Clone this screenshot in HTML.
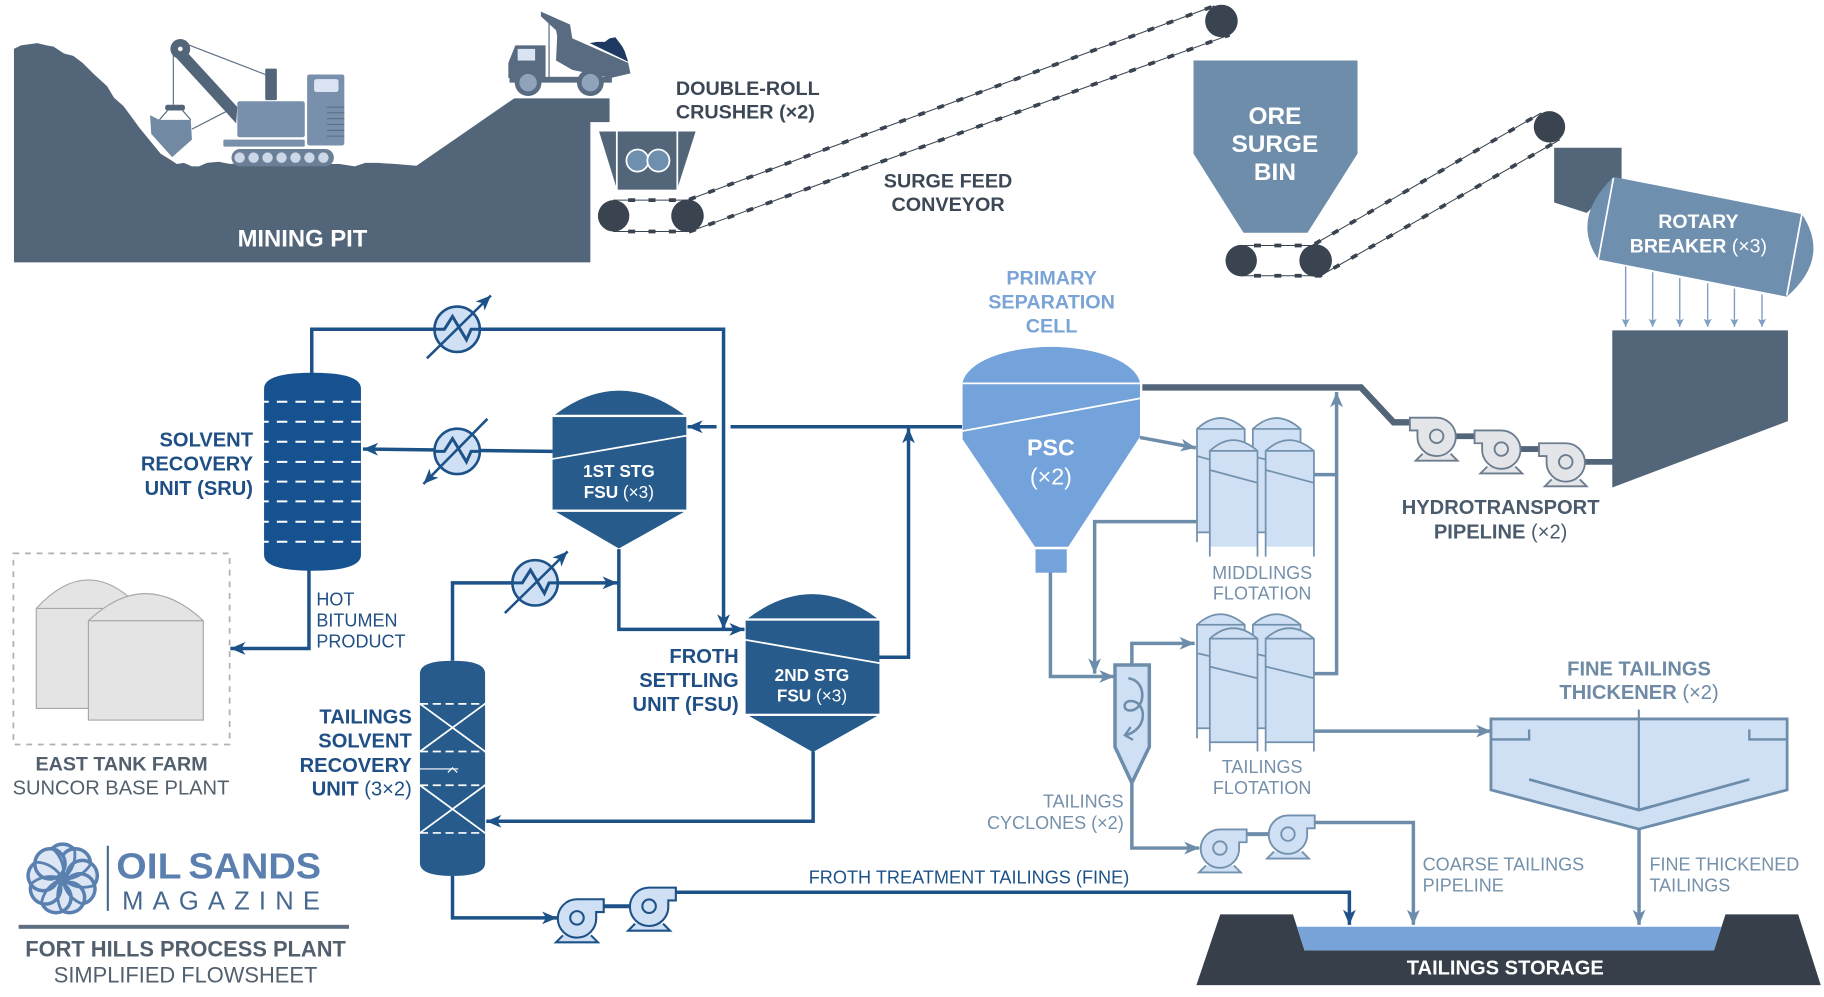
<!DOCTYPE html>
<html><head><meta charset="utf-8"><style>
html,body{margin:0;padding:0;background:#fff;width:1824px;height:997px;overflow:hidden}
svg{display:block}
text{font-family:"Liberation Sans",sans-serif}
.b{font-weight:bold}
.r{font-weight:normal}
</style></head><body>
<svg width="1824" height="997" viewBox="0 0 1568 857" xmlns="http://www.w3.org/2000/svg">
<defs>
<marker id="aB" markerUnits="userSpaceOnUse" markerWidth="16" markerHeight="14" refX="13" refY="6" orient="auto"><path d="M0,0.5 L13,6 L0,11.5 L3.5,6 Z" fill="#1d5288"/></marker>
<marker id="aG" markerUnits="userSpaceOnUse" markerWidth="16" markerHeight="14" refX="13" refY="6" orient="auto"><path d="M0,0.5 L13,6 L0,11.5 L3.5,6 Z" fill="#6d8dab"/></marker>
<marker id="aT" markerUnits="userSpaceOnUse" markerWidth="10" markerHeight="10" refX="7" refY="3.5" orient="auto"><path d="M0,0 L7,3.5 L0,7 L1.5,3.5 Z" fill="#7f9fc4"/></marker>
<g id="pumpL">
<path d="M-12,15 L-18,21 L18,21 L12,15" fill="#e3e5e9"/>
<path d="M-23,-16 L0,-16 A16.5,16.5 0 1 1 -16.5,0 L-16.5,-5 L-23,-5 Z"/>
<circle r="5.8"/>
</g>
<g id="pumpR">
<path d="M-12,15 L-18,21 L18,21 L12,15"/>
<path d="M23,-16 L0,-16 A16.5,16.5 0 1 0 16.5,0 L16.5,-5 L23,-5 Z"/>
<circle r="5.8"/>
</g>
<g id="hx">
<circle r="19.5" fill="#cfe0f4" stroke="#1d5288" stroke-width="2.2"/>
<path d="M-19,0 L-11,0 L-4,-11 L8,9 L12,0 L19,0" fill="none" stroke="#1d5288" stroke-width="2.6"/>
</g>
</defs>

<!-- Mining pit -->
<path d="M12,42 L18,39 L25,38 L32,37 L40,39 L46,40 L55,46 L63,48 L71,54 L80,63 L92,74 L98,84 L106,91 L112,99 L120,110 L129,121 L138,132 L146,137 L152,141 L158,140 L165,143 L171,143 L178,140 L188,139 L198,141 L208,140 L217,142 L230,140 L250,141 L270,141 L292,141 L305,143 L314,140 L325,140 L340,141 L358,142.5 L442,84.5 L524,84.5 L524,105 L507.5,105 L507.5,225.5 L12,225.5 Z" fill="#526579"/>
<!-- Excavator -->
<g>
<path d="M158,37 L228,64" stroke="#5d6f83" stroke-width="1" fill="none"/>
<path d="M149,43 L149,90" stroke="#5d6f83" stroke-width="1" fill="none"/>
<path d="M165,111 L196,95" stroke="#5d6f83" stroke-width="1" fill="none"/>
<path d="M150,48 L160,44 L204,92 L203,106 L194,96 Z" fill="#526579"/>
<circle cx="155" cy="42" r="8.5" fill="#526579"/><circle cx="155" cy="42" r="2" fill="#fff"/>
<rect x="142" y="90" width="17" height="5" rx="2" fill="#526579"/>
<path d="M144,95 L137,103 M157,95 L164,103" stroke="#526579" stroke-width="1"/>
<path d="M129,99 L137,103 L164,103 L165,120 L148,135 L130,115 Z" fill="#7189a3"/>
<rect x="204" y="87" width="58" height="31" rx="2" fill="#7890ab"/>
<rect x="228" y="59" width="10" height="27" rx="1" fill="#526579"/>
<rect x="264" y="64" width="32" height="61" rx="2" fill="#7890ab"/>
<rect x="270" y="68" width="21" height="11" rx="2" fill="#dbe4f3"/>
<path d="M281,92H296M281,97H296M281,102H296M281,107H296M281,112H296M281,117H296" stroke="#526579" stroke-width="0.7"/>
<rect x="192" y="120" width="70" height="6" rx="1" fill="#7890ab"/>
<rect x="199" y="128" width="88" height="15" rx="7.5" fill="#6b7f96"/>
<g fill="#ccd7e8"><circle cx="206" cy="135.5" r="4.5"/><circle cx="218" cy="135.5" r="4.5"/><circle cx="230" cy="135.5" r="4.5"/><circle cx="242" cy="135.5" r="4.5"/><circle cx="254" cy="135.5" r="4.5"/><circle cx="266" cy="135.5" r="4.5"/><circle cx="278" cy="135.5" r="4.5"/></g>
</g>
<!-- Truck -->
<g>
<path d="M472,17 L472,67" stroke="#526579" stroke-width="1"/>
<path d="M465,10 L490,21 L492,33 L540,54 L542,63 L525,67 L492,60 L478,52 L479,31 L478,26 L465,14 Z" fill="#596b80"/>
<path d="M507,37 L513,36 L520,36 L524,33 L529,32 L532,36 L535,40 L537,44 L538,47 L540,53 Z" fill="#1e3a63"/>
<path d="M443,39 L469,39 L469,67 L437,67 L437,54 Z" fill="#596b80"/>
<rect x="445" y="42" width="15" height="10" fill="#dbe4f3"/>
<rect x="438" y="66" width="88" height="5" fill="#596b80"/>
<circle cx="454" cy="71" r="11.5" fill="#596b80"/><circle cx="454" cy="71" r="7.5" fill="#8fa3ba"/>
<circle cx="507.5" cy="71" r="11.5" fill="#596b80"/><circle cx="507.5" cy="71" r="7.5" fill="#8fa3ba"/>
</g>
<!-- Crusher -->
<path d="M515,113 L529.500,113 L529.500,160 Z" fill="#526579"/>
<path d="M598,113 L583,113 L583,160 Z" fill="#526579"/>
<rect x="531" y="113" width="50.500" height="50" fill="#526579"/>
<circle cx="548" cy="138" r="9.500" fill="#6f8fae" stroke="#fff" stroke-width="1.500"/>
<circle cx="566" cy="138" r="9.500" fill="#6f8fae" stroke="#fff" stroke-width="1.500"/>

<!-- Conveyors -->
<g fill="none" stroke="#3a4450">
<g stroke-width="0.9">
<path d="M527,172 L591,172 L1044,5"/><path d="M527,199 L593,199 L1057,30"/>
<path d="M1067,211 L1128,211 L1325,97"/><path d="M1067,237 L1135,237 L1341,120"/>
</g>
<g stroke-width="3.200" stroke-dasharray="6 11.500">
<path d="M540,172 L591,172 L1044,5"/><path d="M540,199 L593,199 L1057,30"/>
<path d="M1078,211 L1128,211 L1325,97"/><path d="M1078,237 L1135,237 L1341,120"/>
</g>
</g>
<circle cx="527.500" cy="185.500" r="13.500" fill="#3a4450"/>
<circle cx="591" cy="185.500" r="14" fill="#3a4450"/>
<circle cx="1050" cy="18" r="14" fill="#3a4450"/>
<circle cx="1067" cy="224" r="13.500" fill="#3a4450"/>
<circle cx="1131" cy="224" r="14" fill="#3a4450"/>
<circle cx="1332" cy="109" r="13.500" fill="#3a4450"/>

<!-- Ore surge bin -->
<path d="M1026,52 L1167,52 L1167,132 L1124,200 L1069,200 L1026,132 Z" fill="#6e8dab"/>

<!-- Rotary breaker -->
<path d="M1336,127 L1394,127 L1394,155 L1364,183 L1336,174 Z" fill="#526579"/>
<path d="M1387,152 L1549,184 Q1574,222 1536,255 L1374,223 Q1350,188 1387,152 Z" fill="#6f8fae"/>
<path d="M1387,153 L1374,223 M1549,184 L1536,254" stroke="#fff" stroke-width="1.500"/>
<g stroke="#7f9fc4" stroke-width="1.200" fill="none">
<path d="M1397.500,229 V281" marker-end="url(#aT)"/>
<path d="M1420.700,234 V281" marker-end="url(#aT)"/>
<path d="M1444,239 V281" marker-end="url(#aT)"/>
<path d="M1468,243.500 V281" marker-end="url(#aT)"/>
<path d="M1491,248 V281" marker-end="url(#aT)"/>
<path d="M1514.700,253 V281" marker-end="url(#aT)"/>
</g>
<path d="M1386,284 L1537,284 L1537,362 L1386,419 Z" fill="#526579"/>

<!-- Hydrotransport -->
<path d="M982,333 L1170,333 L1198,363 L1215,363" fill="none" stroke="#526579" stroke-width="5.500"/>
<path d="M1235,375 H1270 M1290.600,386 H1326 M1346,397 H1387" fill="none" stroke="#526579" stroke-width="5"/>
<g fill="#e3e5e9" stroke="#6d7d8e" stroke-width="1.600">
<use href="#pumpL" x="1235" y="375"/><use href="#pumpL" x="1290.600" y="386"/><use href="#pumpL" x="1346" y="397"/>
</g>

<!-- Grey lines (behind equipment) -->
<g fill="none" stroke="#6d8dab" stroke-width="3">
<path d="M980,376 L1028,385" marker-end="url(#aG)"/>
<path d="M1029,448.400 H941 V579" marker-end="url(#aG)"/>
<path d="M903,492 V581.500 H958" marker-end="url(#aG)"/>
<path d="M973,572 V553 H1027" marker-end="url(#aG)"/>
<path d="M973,673 V729 H1031" marker-end="url(#aG)"/>
<path d="M1071,717 H1107" stroke-width="3.500"/>
<path d="M1130,707 H1215 V795" marker-end="url(#aG)"/>
<path d="M1129,579 H1149 V337" marker-end="url(#aG)"/>
<path d="M1129,408 H1149"/>
<path d="M1129,628.500 H1282" marker-end="url(#aG)"/>
<path d="M1409,713 V795" marker-end="url(#aG)"/>
</g>

<!-- Flotation -->
<g fill="#cfe0f4" stroke="#7391ad" stroke-width="1.500">
<path d="M1029,466 V368.700 Q1049,350 1070,368.700 V457.600 H1029"/><path d="M1029,368.700 H1070 M1029,392 L1040,395" fill="none"/>
<path d="M1077,466 V368.700 Q1097,350 1118,368.700 V457.600 H1077"/><path d="M1077,368.700 H1118 M1077,392 L1088,395" fill="none"/>
<path d="M1040,470 V387.600 Q1060,369 1081,387.600 V470 Z" stroke="none"/>
<path d="M1040,478.500 V387.600 Q1060,369 1081,387.600 V478.500" fill="none"/>
<path d="M1040,387.600 H1081 M1040,404 L1081,415" fill="none"/>
<path d="M1088,470 V387.600 Q1108,369 1129.500,387.600 V470 Z" stroke="none"/>
<path d="M1088,478.500 V387.600 Q1108,369 1129.500,387.600 V478.500" fill="none"/>
<path d="M1088,387.600 H1129.500 M1088,404 L1129.500,415" fill="none"/>

<path d="M1029,634.600 V537 Q1049,519 1070,537 V626 H1029"/><path d="M1029,537 H1070 M1029,561.500 L1040,564" fill="none"/>
<path d="M1077,634.600 V537 Q1097,519 1118,537 V626 H1077"/><path d="M1077,537 H1118 M1077,561.500 L1088,564" fill="none"/>
<path d="M1040,638 V549 Q1060,531 1081,549 V638 Z"/>
<path d="M1040,646 V638 M1081,638 V646" fill="none"/>
<path d="M1040,549 H1081 M1040,573 L1081,583" fill="none"/>
<path d="M1088,638 V549 Q1108,531 1129.500,549 V638 Z"/>
<path d="M1088,646 V638 M1129.500,638 V646" fill="none"/>
<path d="M1088,549 H1129.500 M1088,573 L1129.500,583" fill="none"/>
</g>

<!-- Cyclone -->
<path d="M958.500,571.600 H988 V642 L973,673 L958.500,642 Z" fill="#cfe0f4" stroke="#6d8dab" stroke-width="3"/>
<path d="M970,583 C985,585 985,606 975,610 C964,614 964,600 975,603 C985,606 987,626 968,632" fill="none" stroke="#6d8dab" stroke-width="2.200"/>
<path d="M972,625 L967,632 L974,636" fill="none" stroke="#6d8dab" stroke-width="2"/>

<!-- Coarse pumps -->
<g fill="#cfe0f4" stroke="#7391ad" stroke-width="1.600">
<use href="#pumpR" x="1048.700" y="729"/><use href="#pumpR" x="1107.200" y="717"/>
</g>

<!-- Thickener -->
<path d="M1281.700,618 H1536.300 V679 L1408.800,712.700 L1281.700,679 Z" fill="#cfe0f4" stroke="#6d8dab" stroke-width="2.400"/>
<path d="M1281.700,635.600 H1314.500 V627 M1503.800,627 V635.600 H1536.300" fill="none" stroke="#6d8dab" stroke-width="2"/>
<path d="M1408.800,610 V696.300" stroke="#6d8dab" stroke-width="1.800"/>
<path d="M1314.500,670 L1408.800,696.300 L1503.800,670" fill="none" stroke="#6d8dab" stroke-width="2.400"/>

<!-- Storage -->
<path d="M1028.500,846.800 L1049,786 L1111.500,786 L1121.400,817 L1473.400,817 L1483.300,786 L1545.800,786 L1565.200,846.800 Z" fill="#363f4a"/>
<path d="M1115,796.600 H1479.800 L1473.400,817 H1121.400 Z" fill="#77a3d9"/>

<!-- Tank farm -->
<rect x="11.500" y="475.700" width="185.900" height="164.300" fill="none" stroke="#b0b0b0" stroke-width="1.500" stroke-dasharray="5 5"/>
<path d="M31.200,523 Q76,474 121,523 V609 H31.200 Z" fill="#e4e4e4" stroke="#a8a8a8" stroke-width="1"/>
<path d="M31.200,523 H121" stroke="#a8a8a8" stroke-width="1"/>
<path d="M76,533.600 Q125,487 174.800,533.600 V619 H76 Z" fill="#e4e4e4" stroke="#a8a8a8" stroke-width="1"/>
<path d="M76,533.600 H174.800" stroke="#a8a8a8" stroke-width="1"/>

<!-- Dark blue lines -->
<g fill="none" stroke="#1d5288" stroke-width="3">
<path d="M268,321 V283 H622 V541" marker-end="url(#aB)"/>
<path d="M475,388 L312,386" marker-end="url(#aB)"/>
<path d="M389,568 V501 H531" marker-end="url(#aB)"/>
<path d="M532,472 V541 H640" marker-end="url(#aB)"/>
<path d="M827,366.800 H628" />
<path d="M616,366.800 H591" marker-end="url(#aB)"/>
<path d="M755,565 H781 V368" marker-end="url(#aB)"/>
<path d="M699,646 V706 H418" marker-end="url(#aB)"/>
<path d="M265.600,490 V557.400 H198" marker-end="url(#aB)"/>
<path d="M389,753 V789 H479" marker-end="url(#aB)"/>
<path d="M519,779 H558" stroke-width="3.500"/>
<path d="M580,767 H1160 V795" marker-end="url(#aB)"/>
</g>
<g fill="#cfe0f4" stroke="#1d5288" stroke-width="1.800">
<use href="#pumpR" x="496" y="789"/><use href="#pumpR" x="558" y="779"/>
</g>

<!-- Heat exchangers -->
<use href="#hx" x="393" y="283"/>
<use href="#hx" x="393" y="388"/>
<use href="#hx" x="460" y="501"/>
<g fill="none" stroke="#1d5288" stroke-width="2.200">
<path d="M367,308 L422,254" marker-end="url(#aB)"/>
<path d="M419,360 L364,416" marker-end="url(#aB)"/>
<path d="M434,527 L488,474" marker-end="url(#aB)"/>
</g>

<!-- SRU -->
<path d="M227,334 Q227,320.400 268.700,320.400 Q310.300,320.400 310.300,334 V477 Q310.300,490.600 268.700,490.600 Q227,490.600 227,477 Z" fill="#175290"/>
<g stroke="#fff" stroke-width="1.700" stroke-dasharray="9 7" stroke-dashoffset="5" fill="none">
<path d="M227,345.300H310M227,362.500H310M227,379.700H310M227,397H310M227,414H310M227,431H310M227,448.500H310M227,465.700H310"/>
</g>

<!-- FSU 1 -->
<path d="M477,356.500 Q532,315 588,356.500 Z" fill="#275b8c"/>
<rect x="475" y="358.500" width="115" height="79.500" fill="#275b8c"/>
<path d="M478,440 H588 L532,471.500 Z" fill="#275b8c"/>
<path d="M475,394.500 L590,374.500" stroke="#fff" stroke-width="1.500"/>
<!-- FSU 2 -->
<path d="M643,531.500 Q698,490 754,531.500 Z" fill="#275b8c"/>
<rect x="641" y="533.500" width="115" height="80" fill="#275b8c"/>
<path d="M644,615.500 H754 L698.800,646.500 Z" fill="#275b8c"/>
<path d="M641,550 L756,570" stroke="#fff" stroke-width="1.500"/>

<!-- TSRU -->
<path d="M361,579 Q361,568 389,568 Q417,568 417,579 V742 Q417,753 389,753 Q361,753 361,742 Z" fill="#275b8c"/>
<g stroke="#fff" fill="none">
<path d="M361,605H417M361,646H417M361,675H417M361,716H417" stroke-width="1.500" stroke-dasharray="7 4"/>
<path d="M361,605L417,646M417,605L361,646M361,675L417,716M417,675L361,716" stroke-width="1.500"/>
<path d="M361,661 H394 M385,664 L389,660 L393,664" stroke-width="1"/>
</g>

<!-- PSC -->
<path d="M827.500,329 A76.500,33.500 0 0 1 980,329 V375.400 L918.300,470 H889.700 L827.500,377.600 Z" fill="#74a2da"/>
<rect x="890.200" y="472.200" width="26.800" height="20.100" fill="#74a2da"/>
<path d="M827.500,329.500 H980 M827.500,370.500 L980,342.400" stroke="#fff" stroke-width="1.500"/>

<!-- Logo -->
<g transform="translate(53.900,755.600)" fill="#dce6f5" stroke="#5a80b0" stroke-width="3">
<circle r="13" cy="-17" transform="rotate(0)"/><circle r="13" cy="-17" transform="rotate(40)"/><circle r="13" cy="-17" transform="rotate(80)"/><circle r="13" cy="-17" transform="rotate(120)"/><circle r="13" cy="-17" transform="rotate(160)"/><circle r="13" cy="-17" transform="rotate(200)"/><circle r="13" cy="-17" transform="rotate(240)"/><circle r="13" cy="-17" transform="rotate(280)"/><circle r="13" cy="-17" transform="rotate(320)"/>
<g fill="none" stroke-width="2.400">
<path d="M0,0 C8,-6 12,-16 10,-26" transform="rotate(0)"/><path d="M0,0 C8,-6 12,-16 10,-26" transform="rotate(40)"/><path d="M0,0 C8,-6 12,-16 10,-26" transform="rotate(80)"/><path d="M0,0 C8,-6 12,-16 10,-26" transform="rotate(120)"/><path d="M0,0 C8,-6 12,-16 10,-26" transform="rotate(160)"/><path d="M0,0 C8,-6 12,-16 10,-26" transform="rotate(200)"/><path d="M0,0 C8,-6 12,-16 10,-26" transform="rotate(240)"/><path d="M0,0 C8,-6 12,-16 10,-26" transform="rotate(280)"/><path d="M0,0 C8,-6 12,-16 10,-26" transform="rotate(320)"/>
</g>
</g>
<rect x="91.800" y="727" width="1.800" height="56" fill="#46688f"/>
<rect x="16" y="795" width="284" height="3.400" fill="#5d6e80"/>

<!-- TEXT -->
<g text-anchor="middle">
<text x="260" y="212" font-size="20.500" fill="#fff" class="b">MINING PIT</text>
<g font-size="21" fill="#fff" class="b"><text x="1096" y="106.500">ORE</text><text x="1096" y="130.500">SURGE</text><text x="1096" y="154.500">BIN</text></g>
<g font-size="17" fill="#3d4856" class="b"><text x="815" y="161">SURGE FEED</text><text x="815" y="181.500">CONVEYOR</text></g>
<g font-size="16.800" fill="#fff" class="b"><text x="1460" y="196">ROTARY</text><text x="1460" y="217">BREAKER <tspan class="r">(×3)</tspan></text></g>
<g font-size="17" fill="#7aa3d6" class="b"><text x="904" y="244.500">PRIMARY</text><text x="904" y="265">SEPARATION</text><text x="904" y="286">CELL</text></g>
<text x="903.400" y="391.500" font-size="20" fill="#fff" class="b">PSC</text>
<text x="903.400" y="416.500" font-size="20" fill="#fff">(×2)</text>
<g font-size="14.800" fill="#fff" class="b"><text x="532" y="410">1ST STG</text><text x="532" y="428">FSU <tspan class="r">(×3)</tspan></text></g>
<g font-size="14.800" fill="#fff" class="b"><text x="698" y="585.500">2ND STG</text><text x="698" y="603">FSU <tspan class="r">(×3)</tspan></text></g>
<g font-size="17.300" fill="#4a5b6c" class="b"><text x="1290" y="442">HYDROTRANSPORT</text><text x="1290" y="463">PIPELINE <tspan class="r">(×2)</tspan></text></g>
<g font-size="15.500" fill="#7590aa"><text x="1085" y="497.500">MIDDLINGS</text><text x="1085" y="515.500">FLOTATION</text><text x="1085" y="664.500">TAILINGS</text><text x="1085" y="682.500">FLOTATION</text></g>
<g font-size="17.300" fill="#6e8aa4" class="b"><text x="1409" y="580.500">FINE TAILINGS</text><text x="1409" y="601">THICKENER <tspan class="r">(×2)</tspan></text></g>
<text x="1294" y="837.500" font-size="17.300" fill="#fff" class="b">TAILINGS STORAGE</text>
<text x="833" y="759.500" font-size="15.600" fill="#1d5288">FROTH TREATMENT TAILINGS (FINE)</text>
<text x="104.500" y="662.500" font-size="16.900" fill="#52606e" class="b">EAST TANK FARM</text>
<text x="104" y="683" font-size="17.300" fill="#52606e">SUNCOR BASE PLANT</text>
<text x="159.500" y="822.400" font-size="18.800" fill="#52606e" class="b">FORT HILLS PROCESS PLANT</text>
<text x="159.500" y="844.700" font-size="18.800" fill="#52606e">SIMPLIFIED FLOWSHEET</text>
</g>
<g font-size="17" fill="#3d4856" class="b"><text x="581" y="81.500">DOUBLE-ROLL</text><text x="581" y="102">CRUSHER (×2)</text></g>
<g font-size="15.500" fill="#1f4f85"><text x="272" y="520.500">HOT</text><text x="272" y="538.500">BITUMEN</text><text x="272" y="556.500">PRODUCT</text></g>
<g font-size="15.500" fill="#7590aa"><text x="1223" y="748.500">COARSE TAILINGS</text><text x="1223" y="766.500">PIPELINE</text><text x="1418" y="748.500">FINE THICKENED</text><text x="1418" y="766.500">TAILINGS</text></g>
<g text-anchor="end">
<g font-size="17.300" fill="#1f4f85" class="b"><text x="217.500" y="384">SOLVENT</text><text x="217.500" y="404.600">RECOVERY</text><text x="217.500" y="425.500">UNIT (SRU)</text>
<text x="635" y="570">FROTH</text><text x="635" y="590.500">SETTLING</text><text x="635" y="611">UNIT (FSU)</text>
<text x="354" y="622">TAILINGS</text><text x="354" y="642.500">SOLVENT</text><text x="354" y="663.500">RECOVERY</text><text x="354" y="684">UNIT <tspan class="r">(3×2)</tspan></text></g>
<g font-size="15.500" fill="#7590aa"><text x="966" y="694">TAILINGS</text><text x="966" y="712.500">CYCLONES (×2)</text></g>
</g>
<text x="100" y="755" font-size="31" fill="#5b80b0" class="b" textLength="56" lengthAdjust="spacingAndGlyphs">OIL</text>
<text x="162" y="755" font-size="31" fill="#5b80b0" class="b" textLength="114" lengthAdjust="spacingAndGlyphs">SANDS</text>
<text x="105" y="781.700" font-size="22" fill="#46688f" textLength="170" lengthAdjust="spacing">MAGAZINE</text>
</svg>
</body></html>
